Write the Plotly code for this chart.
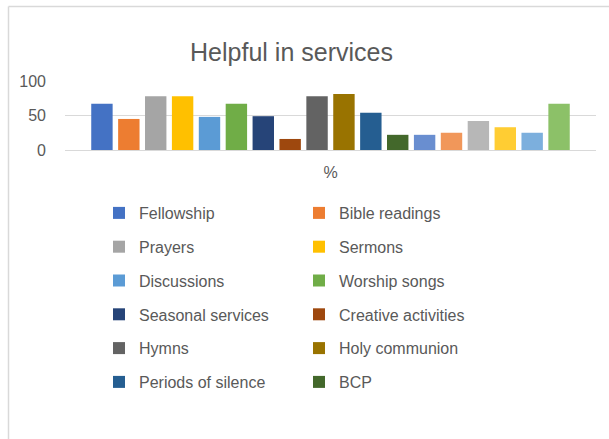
import plotly.graph_objects as go

category = ["%"]
series_names = [
    "Fellowship", "Bible readings", "Prayers", "Sermons", "Discussions",
    "Worship songs", "Seasonal services", "Creative activities", "Hymns",
    "Holy communion", "Periods of silence", "BCP",
    "Series 13", "Series 14", "Series 15", "Series 16", "Series 17", "Series 18",
]
series_values = [67, 45, 78, 78, 48, 67, 49, 16, 78, 81, 54, 22, 22, 25, 42, 33, 25, 67]
series_colors = [
    "#4472C4", "#ED7D31", "#A5A5A5", "#FFC000", "#5B9BD5", "#70AD47",
    "#264478", "#9E480E", "#636363", "#997300", "#255E91", "#43682B",
    "#698ED0", "#F1975A", "#B7B7B7", "#FFCD33", "#7CAFDD", "#8CC168",
]
legend_count = 12
y_ticks = [0, 50, 100]

W, H = 609, 439
L, R, T, B = 65, 13, 81, 289
pw = W - L - R
ph = H - T - B

def px_x(p):
    return (p - L) / pw

def px_y(p):
    return (H - B - p) / ph

text_col = "#595959"
font_family = "Liberation Sans, Arial, sans-serif"

fig = go.Figure()
for i, (name, val, col) in enumerate(zip(series_names, series_values, series_colors)):
    show = i < legend_count
    fig.add_trace(go.Bar(
        x=category, y=[val], name=name,
        marker=dict(color=col, line=dict(width=0)),
        showlegend=show,
        legend="legend" if (i % 2 == 0) else "legend2",
        legendgroup=f"g{i}",
    ))

legend_common = dict(
    orientation="v",
    font=dict(family=font_family, size=16, color=text_col),
    bgcolor="rgba(0,0,0,0)",
    borderwidth=0,
    tracegroupgap=10,
    itemwidth=30,
    xanchor="left", yanchor="top",
    xref="paper", yref="paper",
    itemclick=False, itemdoubleclick=False,
)

fig.update_layout(
    width=W, height=H,
    margin=dict(l=L, r=R, t=T, b=B, pad=0),
    paper_bgcolor="white", plot_bgcolor="white",
    barmode="group", bargap=0.0885, bargroupgap=0.204,
    title=dict(
        text="Helpful in services",
        font=dict(family=font_family, size=25, color=text_col),
        xref="container", yref="container",
        x=291.5 / W, y=1 - 52 / H, xanchor="center", yanchor="middle",
    ),
    legend=dict(legend_common, x=px_x(99), y=px_y(196)),
    legend2=dict(legend_common, x=px_x(299), y=px_y(196)),
    xaxis=dict(
        showgrid=False, showline=True, linecolor="#D9D9D9", linewidth=1,
        ticks="", tickfont=dict(family=font_family, size=16, color=text_col),
        ticklabelstandoff=8, fixedrange=True,
    ),
    yaxis=dict(
        range=[0, 100], tickvals=y_ticks, showgrid=True, gridcolor="#D9D9D9",
        gridwidth=1, zeroline=False, showline=False, ticks="",
        tickfont=dict(family=font_family, size=16, color=text_col),
        ticklabelstandoff=18, fixedrange=True,
    ),
    shapes=[
        dict(type="line", xref="paper", yref="paper",
             x0=px_x(8.5), x1=px_x(W + 5), y0=px_y(6.5), y1=px_y(6.5),
             line=dict(color="#D9D9D9", width=1.5)),
        dict(type="line", xref="paper", yref="paper",
             x0=px_x(8.5), x1=px_x(8.5), y0=px_y(6.5), y1=px_y(H + 5),
             line=dict(color="#D9D9D9", width=1.5)),
    ],
    showlegend=True,
)

fig.write_html(
    "out.html",
    config={"displayModeBar": False},
    post_script="document.body.style.margin='0';",
)
